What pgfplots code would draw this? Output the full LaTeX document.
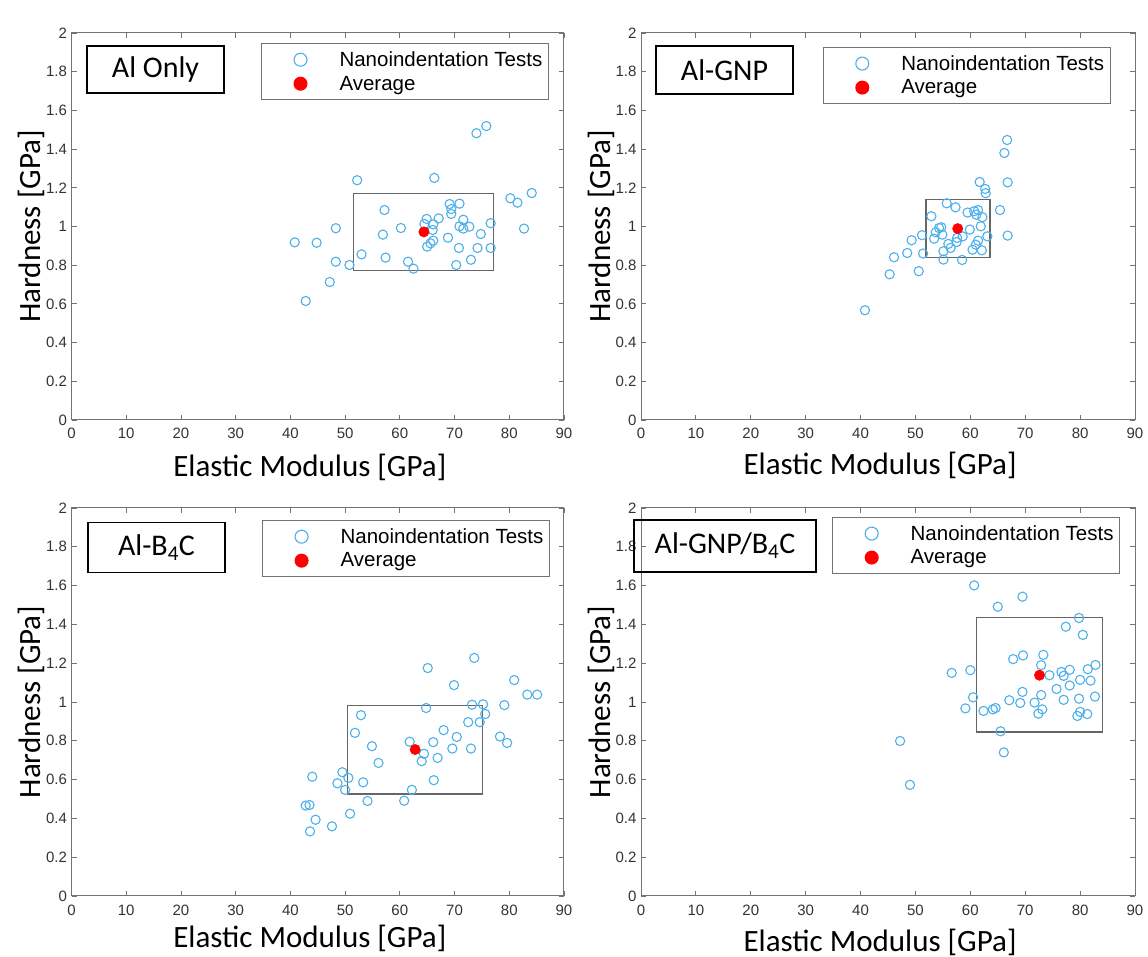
\documentclass[border=0pt]{standalone}
\usepackage{fontspec}
\setmainfont{Liberation Sans}
\newfontfamily\calibri{Carlito}
\usepackage{pgfplots}
\pgfplotsset{compat=1.18}
\definecolor{mblue}{RGB}{77,176,234}
\definecolor{axgray}{RGB}{115,115,115}
\tikzset{tbox/.style={draw=black, line width=1.8pt, inner sep=0pt,
    font=\calibri\fontsize{30}{34}\selectfont}}
\pgfplotsset{
  panel/.style={
    scale only axis, clip=false,
    xmin=0, xmax=90, ymin=0, ymax=2,
    xtick={0,10,20,30,40,50,60,70,80,90},
    ytick={0,0.2,0.4,0.6,0.8,1,1.2,1.4,1.6,1.8,2},
    tick align=inside, major tick length=5pt,
    axis line style={axgray, line width=1pt},
    every tick/.style={axgray, line width=0.8pt},
    tick label style={font=\fontsize{15}{17}\selectfont, text=black!80},
    xticklabel style={yshift=-5pt},
    yticklabel style={xshift=-1pt},
    /pgf/number format/assume math mode=true,
    label style={font=\calibri\fontsize{31}{34}\selectfont},
    xlabel={Elastic Modulus [GPa]}, ylabel={Hardness [GPa]},
    ylabel style={at={(axis description cs:-0.062,0.5)}, anchor=base},
    legend cell align=left,
    legend style={draw=axgray, line width=1pt, font=\fontsize{20.5}{23}\selectfont,
      anchor=north west, inner xsep=4pt, inner ysep=6pt, row sep=4pt},
  },
  pts/.style={only marks, mark=o, mark size=4.6pt,
    mark options={draw=mblue, line width=1.1pt},
    legend image code/.code={\path[draw=none,fill=none] (0pt,-6pt) rectangle (72pt,6pt);
      \draw[mark repeat=1,##1,mark size=6.5pt] plot coordinates {(35pt,0pt)};}},
  avg/.style={only marks, mark=*, mark size=5.2pt, mark options={draw=red, fill=red},
    legend image code/.code={\path[draw=none,fill=none] (0pt,-6pt) rectangle (72pt,6pt);
      \draw[mark repeat=1,##1,mark size=6.5pt] plot coordinates {(35pt,0pt)};}},
  sdbox/.style={forget plot, no markers, draw=black!60, line width=1.3pt, line join=miter},
}
\begin{document}
\begin{tikzpicture}
\path[use as bounding box] (0pt,0pt) rectangle (1148pt,957pt);

% Panel 1: Al Only
\begin{axis}[panel, at={(71.5pt,537pt)}, anchor=south west, width=492.5pt, height=387pt,
  xlabel style={at={(axis description cs:0.484,-0.145)}, anchor=base},
  legend style={at={(rel axis cs:0.3848,0.974)}}]
\addplot[pts] coordinates {
(75.8,1.519) (74.0,1.482) (52.2,1.239) (66.3,1.251) (84.1,1.173) (80.2,1.146)
(81.5,1.123) (82.7,0.989) (57.2,1.085) (69.1,1.116) (70.9,1.118) (69.4,1.090)
(69.4,1.065) (71.6,1.035) (67.1,1.042) (64.9,1.039) (64.5,1.013) (66.1,1.011)
(48.3,0.991) (60.2,0.992) (66.0,0.982) (70.9,1.001) (71.6,0.989) (72.7,0.999)
(76.6,1.017) (56.9,0.958) (74.8,0.961) (68.8,0.942) (40.8,0.918) (44.8,0.916)
(66.1,0.927) (65.6,0.913) (65.0,0.896) (70.8,0.889) (74.2,0.889) (76.6,0.889)
(53.0,0.856) (57.4,0.839) (48.3,0.818) (61.5,0.818) (73.0,0.828) (50.8,0.801)
(62.5,0.782) (70.3,0.801) (47.2,0.713) (42.8,0.615)};
\addlegendentry{Nanoindentation Tests}
\addplot[avg] coordinates {(64.4,0.972)};
\addlegendentry{Average}
\addplot[sdbox] coordinates {(51.5,0.774) (77.1,0.774) (77.1,1.170) (51.5,1.170) (51.5,0.774)};
\node[tbox, minimum width=137pt, minimum height=47pt] at (rel axis cs:0.1706,0.9057) {Al Only};
\end{axis}

% Panel 2: Al-GNP
\begin{axis}[panel, at={(641pt,537pt)}, anchor=south west, width=494pt, height=387pt,
  xlabel style={at={(axis description cs:0.484,-0.140)}, anchor=base},
  legend style={at={(rel axis cs:0.368,0.964)}}]
\addplot[pts] coordinates {
(66.7,1.447) (66.2,1.380) (61.7,1.230) (66.8,1.228) (62.7,1.194) (62.8,1.172)
(55.7,1.120) (57.3,1.099) (65.4,1.085) (59.5,1.072) (60.7,1.079) (61.4,1.085)
(61.1,1.061) (62.2,1.048) (52.9,1.053) (61.9,1.001) (59.9,0.984) (54.7,0.996)
(54.3,0.992) (53.7,0.970) (54.9,0.958) (51.2,0.955) (53.4,0.937) (63.1,0.949)
(66.8,0.953) (49.3,0.929) (58.6,0.949) (57.6,0.941) (57.5,0.920) (56.0,0.910)
(56.4,0.889) (61.4,0.927) (61.0,0.906) (60.4,0.880) (62.1,0.877) (55.1,0.872)
(48.5,0.863) (51.4,0.860) (46.1,0.841) (55.1,0.829) (58.5,0.827) (50.6,0.769)
(45.3,0.753) (40.8,0.567)};
\addlegendentry{Nanoindentation Tests}
\addplot[avg] coordinates {(57.7,0.989)};
\addlegendentry{Average}
\addplot[sdbox] coordinates {(51.9,0.839) (63.6,0.839) (63.6,1.138) (51.9,1.138) (51.9,0.839)};
\node[tbox, minimum width=137pt, minimum height=48pt] at (rel axis cs:0.169,0.904) {Al-GNP};
\end{axis}

% Panel 3: Al-B4C
\begin{axis}[panel, at={(71.5pt,61pt)}, anchor=south west, width=492.5pt, height=388pt,
  xlabel style={at={(axis description cs:0.484,-0.132)}, anchor=base},
  legend style={at={(rel axis cs:0.387,0.969)}}]
\addplot[pts] coordinates {
(73.6,1.227) (65.1,1.175) (80.9,1.113) (69.9,1.087) (83.3,1.038) (85.1,1.038)
(64.8,0.969) (73.2,0.986) (75.2,0.988) (79.1,0.984) (75.6,0.938) (52.9,0.932)
(74.6,0.896) (72.5,0.896) (68.0,0.855) (51.8,0.841) (70.4,0.820) (78.3,0.822)
(79.6,0.789) (66.1,0.793) (69.6,0.760) (73.0,0.760) (54.9,0.772) (61.8,0.795)
(64.4,0.733) (66.9,0.712) (64.0,0.695) (56.1,0.686) (49.5,0.638) (50.6,0.609)
(44.0,0.615) (48.6,0.581) (53.3,0.586) (50.0,0.547) (62.2,0.547) (66.2,0.597)
(54.1,0.490) (60.8,0.491) (42.8,0.466) (43.5,0.469) (50.9,0.424) (44.6,0.393)
(47.6,0.359) (43.6,0.333)};
\addlegendentry{Nanoindentation Tests}
\addplot[avg] coordinates {(62.8,0.755)};
\addlegendentry{Average}
\addplot[sdbox] coordinates {(50.4,0.525) (75.1,0.525) (75.1,0.982) (50.4,0.982) (50.4,0.525)};
\node[tbox, minimum width=137pt, minimum height=50pt] at (rel axis cs:0.1726,0.898) {Al-B\textsubscript{4}C};
\end{axis}

% Panel 4: Al-GNP/B4C
\begin{axis}[panel, at={(641pt,61pt)}, anchor=south west, width=494pt, height=388pt,
  xlabel style={at={(axis description cs:0.484,-0.142)}, anchor=base},
  legend style={at={(rel axis cs:0.387,0.977)}}]
\addplot[pts] coordinates {
(60.7,1.601) (69.5,1.543) (65.0,1.491) (79.8,1.433) (77.4,1.388) (80.5,1.346)
(69.6,1.240) (67.8,1.221) (73.3,1.243) (72.9,1.190) (74.4,1.138) (76.6,1.155)
(77.0,1.135) (78.1,1.166) (81.4,1.169) (82.8,1.191) (80.0,1.114) (81.9,1.110)
(56.6,1.150) (60.0,1.164) (78.1,1.085) (75.7,1.067) (69.5,1.052) (72.9,1.036)
(60.5,1.024) (79.8,1.017) (82.7,1.028) (77.0,1.011) (67.1,1.009) (69.1,0.995)
(71.7,0.997) (59.1,0.967) (62.4,0.954) (64.1,0.962) (64.6,0.969) (73.1,0.962)
(72.4,0.940) (80.0,0.949) (79.5,0.928) (81.3,0.938) (65.5,0.849) (47.2,0.799)
(66.1,0.740) (49.0,0.573)};
\addlegendentry{Nanoindentation Tests}
\addplot[avg] coordinates {(72.6,1.138)};
\addlegendentry{Average}
\addplot[sdbox] coordinates {(61.1,0.846) (84.1,0.846) (84.1,1.434) (61.1,1.434) (61.1,0.846)};
\node[tbox, minimum width=182pt, minimum height=52pt] at (rel axis cs:0.170,0.903) {Al-GNP/B\textsubscript{4}C};
\end{axis}
\end{tikzpicture}
\end{document}
